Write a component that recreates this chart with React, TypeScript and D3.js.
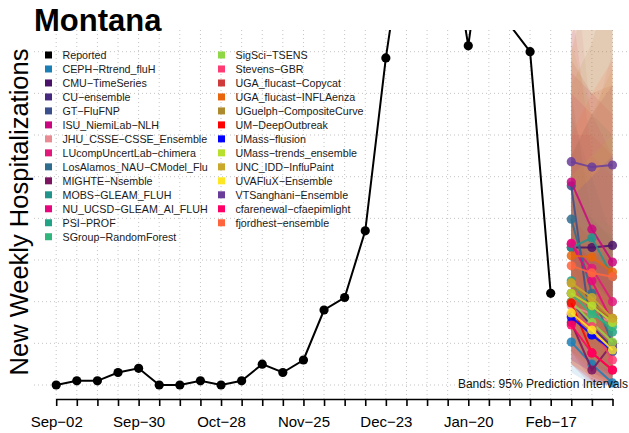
import * as d3 from 'd3';
import { useEffect, useRef } from 'react';

const reportedDates = [
  '2023-09-02', '2023-09-09', '2023-09-16', '2023-09-23', '2023-09-30',
  '2023-10-07', '2023-10-14', '2023-10-21', '2023-10-28', '2023-11-04',
  '2023-11-11', '2023-11-18', '2023-11-25', '2023-12-02', '2023-12-09',
  '2023-12-16', '2023-12-23', '2023-12-30', '2024-01-06', '2024-01-13',
  '2024-01-20', '2024-01-27', '2024-02-03', '2024-02-10', '2024-02-17',
];
const reportedValues = [
  0, 1, 1, 3, 4, 0, 0, 1, 0, 1, 5, 3, 6, 18, 21, 37, 78.5, 112, 125, 112, 81.4, 118, 86.5,
  80, 22,
];

const forecastDates = ['2024-02-24', '2024-03-02', '2024-03-09'];

const modelNames = [
  'CEPH\u2212Rtrend_fluH',
  'CMU\u2212TimeSeries',
  'CU\u2212ensemble',
  'GT\u2212FluFNP',
  'ISU_NiemiLab\u2212NLH',
  'JHU_CSSE\u2212CSSE_Ensemble',
  'LUcompUncertLab\u2212chimera',
  'LosAlamos_NAU\u2212CModel_Flu',
  'MIGHTE\u2212Nsemble',
  'MOBS\u2212GLEAM_FLUH',
  'NU_UCSD\u2212GLEAM_AI_FLUH',
  'PSI\u2212PROF',
  'SGroup\u2212RandomForest',
  'SigSci\u2212TSENS',
  'Stevens\u2212GBR',
  'UGA_flucast\u2212Copycat',
  'UGA_flucast\u2212INFLAenza',
  'UGuelph\u2212CompositeCurve',
  'UM\u2212DeepOutbreak',
  'UMass\u2212flusion',
  'UMass\u2212trends_ensemble',
  'UNC_IDD\u2212InfluPaint',
  'UVAFluX\u2212Ensemble',
  'VTSanghani\u2212Ensemble',
  'cfarenewal\u2212cfaepimlight',
  'fjordhest\u2212ensemble',
];

const modelColors = [
  '#1b7fb6', '#4a1369', '#472a7f', '#3b4f8c', '#c9087f', '#ea8b94', '#e0197b', '#2f6c8e',
  '#7b1560', '#23948c', '#e6077f', '#22a386', '#30b57c', '#8fd744', '#ff3b73', '#cf3b3b',
  '#e8650c', '#ad8a2e', '#ff0000', '#0000ff', '#b6df2e', '#c9a82b', '#fde725', '#6a3d9a',
  '#ff0066', '#ff653d',
];

// median forecasts for Feb-24, Mar-02, Mar-09
const modelMedian = [
  [10.3, 5, 0.5],
  [33, 33, 33.5],
  [20, 14, 9],
  [47.8, 12, 8],
  [48.7, 37.4, 29.5],
  [19, 17, 15],
  [33.8, 28, 20],
  [39.8, 22, 10],
  [15, 3.6, 10],
  [33, 35.3, 26],
  [34, 25, 15],
  [25, 18, 12.7],
  [22, 17, 14],
  [20, 15, 10.3],
  [17, 14, 6],
  [22, 19, 16],
  [31, 30.7, 27.1],
  [24.5, 19.7, 16],
  [19.7, 7.7, 3.6],
  [16.3, 12, 8.4],
  [22, 19, 15],
  [24.5, 21, 16],
  [17.3, 13.2, 8.4],
  [53.6, 52.3, 52.8],
  [14.4, 7.7, 3.6],
  [28.6, 26.9, 26],
];
const modelLower = [
  [3, 0, 0],
  [18, 12, 8],
  [10, 5, 2],
  [30, 2, 0],
  [30, 18, 10],
  [8, 5, 3],
  [15, 8, 3],
  [20, 8, 2],
  [5, 0, 0],
  [18, 15, 10],
  [15, 8, 3],
  [12, 6, 2],
  [10, 5, 2],
  [8, 4, 1],
  [6, 3, 0],
  [5, 2, 0],
  [15, 10, 6],
  [8, 3, 0],
  [8, 1, 0],
  [6, 3, 1],
  [10, 6, 3],
  [5, 1, 0],
  [5, 2, 0],
  [30, 25, 20],
  [5, 1, 0],
  [12, 8, 5],
];
const modelUpper = [
  [25, 22, 20],
  [55, 65, 72],
  [35, 32, 30],
  [70, 40, 35],
  [75, 70, 65],
  [110, 62, 80],
  [60, 60, 55],
  [65, 50, 35],
  [40, 30, 35],
  [55, 65, 60],
  [70, 65, 55],
  [45, 40, 38],
  [40, 38, 36],
  [38, 35, 32],
  [92, 55, 50],
  [78, 70, 72],
  [80, 100, 115],
  [72, 82, 100],
  [40, 35, 30],
  [45, 50, 55],
  [50, 55, 60],
  [82, 65, 76],
  [120, 100, 95],
  [84, 96, 110],
  [35, 30, 28],
  [60, 70, 78],
];

const yGridValues = [0, 10, 20, 30, 40, 50, 60, 70, 80];

const FONT = '"Liberation Sans", Arial, Helvetica, sans-serif';

export default function App() {
  const svgRef = useRef<SVGSVGElement>(null);

  useEffect(() => {
    if (!svgRef.current) return;
    const svg = d3.select(svgRef.current);
    svg.selectAll('*').remove();

    const plot = { left: 34, right: 634, top: 30, bottom: 399 };
    const parse = d3.utcParse('%Y-%m-%d');

    const x = d3
      .scaleUtc()
      .domain([parse('2023-09-02') as Date, parse('2024-03-09') as Date])
      .range([56.2, 612.5]);
    const y = d3.scaleLinear().domain([0, 80]).range([385, 51.7]);

    svg
      .append('defs')
      .append('clipPath')
      .attr('id', 'plot-clip')
      .append('rect')
      .attr('x', plot.left)
      .attr('y', plot.top)
      .attr('width', plot.right - plot.left)
      .attr('height', plot.bottom - plot.top);

    const weekTicks = d3.utcSaturday.range(x.domain()[0], d3.utcDay.offset(x.domain()[1], 1));

    // Grid lines
    const grid = svg.append('g').attr('stroke', '#c4c4c4').attr('stroke-dasharray', '1,3');
    grid
      .selectAll('.vgrid')
      .data(weekTicks)
      .enter()
      .append('line')
      .attr('x1', (d) => x(d))
      .attr('x2', (d) => x(d))
      .attr('y1', plot.top)
      .attr('y2', plot.bottom);
    grid
      .selectAll('.hgrid')
      .data(yGridValues)
      .enter()
      .append('line')
      .attr('x1', plot.left)
      .attr('x2', plot.right)
      .attr('y1', (d) => y(d))
      .attr('y2', (d) => y(d));

    const g = svg.append('g').attr('clip-path', 'url(#plot-clip)');
    const fDates = forecastDates.map((d) => parse(d) as Date);

    // Prediction interval bands
    modelNames.forEach((_, m) => {
      const area = d3
        .area<number>()
        .x((_, i) => x(fDates[i]))
        .y0((i) => y(modelLower[m][i]))
        .y1((i) => y(modelUpper[m][i]));
      g.append('path')
        .datum([0, 1, 2])
        .attr('fill', modelColors[m])
        .attr('fill-opacity', 0.12)
        .attr('d', area);
    });

    // Forecast lines and points
    modelNames.forEach((_, m) => {
      const line = d3
        .line<number>()
        .x((_, i) => x(fDates[i]))
        .y((v) => y(v));
      g.append('path')
        .datum(modelMedian[m])
        .attr('fill', 'none')
        .attr('stroke', modelColors[m])
        .attr('stroke-opacity', 0.85)
        .attr('stroke-width', 2)
        .attr('d', line);
      g.selectAll(null)
        .data(modelMedian[m])
        .enter()
        .append('circle')
        .attr('cx', (_, i) => x(fDates[i]))
        .attr('cy', (v) => y(v))
        .attr('r', 4.6)
        .attr('fill', modelColors[m])
        .attr('fill-opacity', 0.85);
    });

    // Reported
    const rDates = reportedDates.map((d) => parse(d) as Date);
    const rLine = d3
      .line<number>()
      .x((_, i) => x(rDates[i]))
      .y((v) => y(v));
    g.append('path')
      .datum(reportedValues)
      .attr('fill', 'none')
      .attr('stroke', '#000')
      .attr('stroke-width', 2)
      .attr('d', rLine);
    g.selectAll('.rep-dot')
      .data(reportedValues)
      .enter()
      .append('circle')
      .attr('cx', (_, i) => x(rDates[i]))
      .attr('cy', (v) => y(v))
      .attr('r', 4.6)
      .attr('fill', '#000');

    // X axis
    const fmt = d3.utcFormat('%b-%d');
    svg
      .append('g')
      .attr('transform', `translate(0, ${plot.bottom})`)
      .call(
        d3
          .axisBottom(x)
          .tickValues(weekTicks)
          .tickSize(7)
          .tickSizeOuter(0)
          .tickPadding(10)
          .tickFormat((d, i) => (i % 4 === 0 ? fmt(d as Date).replace('-', '\u2212') : ''))
      )
      .call((a) => a.select('.domain').attr('stroke', '#000').attr('stroke-width', 1.6))
      .call((a) => a.selectAll('.tick line').attr('stroke', '#000').attr('stroke-width', 1.6))
      .call((a) =>
        a
          .selectAll('.tick text')
          .attr('fill', '#000')
          .style('font-size', '15px')
          .style('font-family', FONT)
      );

    // Bands note
    svg
      .append('text')
      .attr('x', 628)
      .attr('y', 388)
      .attr('text-anchor', 'end')
      .style('font-size', '12px')
      .style('font-family', FONT)
      .attr('fill', '#111')
      .text('Bands: 95% Prediction Intervals');

    // Legend
    const legendItems = ['Reported', ...modelNames];
    const legendColors = ['#000', ...modelColors];
    const legend = svg.append('g').style('font-family', FONT).style('font-size', '10.7px');
    legendItems.forEach((name, i) => {
      const col = i < 14 ? 0 : 1;
      const row = i < 14 ? i : i - 14;
      const lx = col === 0 ? 45 : 218;
      const ly = 55 + row * 13.98;
      legend
        .append('rect')
        .attr('x', lx)
        .attr('y', ly - 3.5)
        .attr('width', 7)
        .attr('height', 7)
        .attr('fill', legendColors[i]);
      legend
        .append('text')
        .attr('x', lx + 17.5)
        .attr('y', ly + 3.8)
        .attr('fill', '#1a1a1a')
        .text(name);
    });

    // Title
    svg
      .append('text')
      .attr('x', 34)
      .attr('y', 31)
      .style('font-family', FONT)
      .style('font-size', '31px')
      .style('font-weight', 'bold')
      .attr('fill', '#000')
      .text('Montana');

    // Y label
    svg
      .append('text')
      .attr('transform', 'translate(28, 212) rotate(-90)')
      .attr('text-anchor', 'middle')
      .style('font-family', FONT)
      .style('font-size', '25.5px')
      .attr('fill', '#000')
      .text('New Weekly Hospitalizations');
  }, []);

  return (
    <svg
      ref={svgRef}
      width={629}
      height={433}
      style={{ position: 'absolute', left: 0, top: 0, background: '#fff' }}
    />
  );
}
